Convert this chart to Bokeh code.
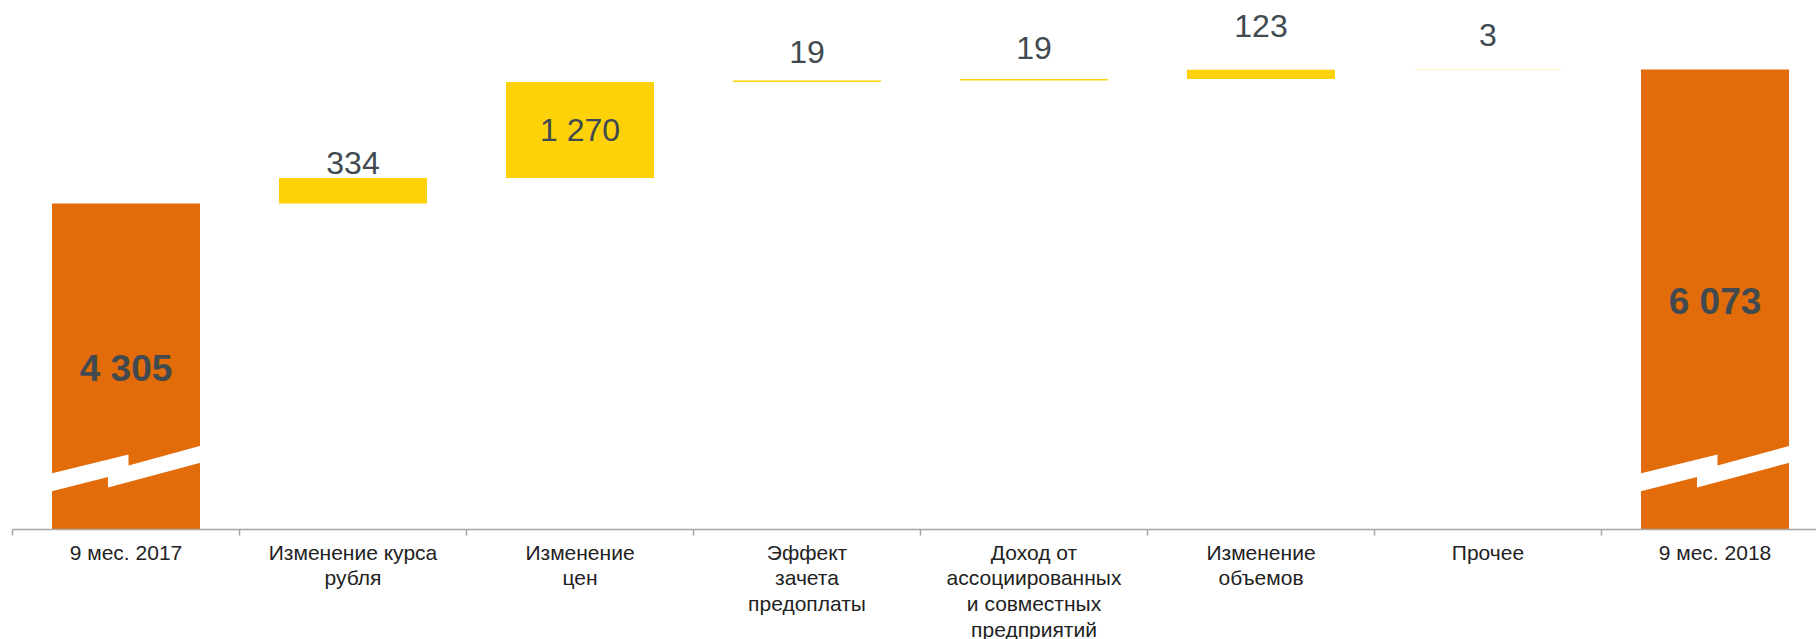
from bokeh.plotting import figure
from bokeh.models import ColumnDataSource, FixedTicker, Range1d
from bokeh.embed import file_html
from bokeh.resources import INLINE
from bokeh.core.properties import value

# ---------------- data ----------------
categories = [
    "9 мес. 2017",
    "Изменение курса\nрубля",
    "Изменение\nцен",
    "Эффект\nзачета\nпредоплаты",
    "Доход от\nассоциированных\nи совместных\nпредприятий",
    "Изменение\nобъемов",
    "Прочее",
    "9 мес. 2018",
]
start_value = 4305
changes = [334, 1270, 19, 19, 123, 3]
end_value = 6073

# ---------------- style ----------------
ORANGE = "#E36C0A"
YELLOW = "#FDD208"
LABEL_COLOR = "#404A50"
TICK_COLOR = "#222222"
AXIS_COLOR = "#A6A6A6"
FONT = "Liberation Sans"

FRAME_W = 1804
FRAME_H = 521
PX_PER_CAT = 227.0
X_START = -0.5
X_END = X_START + FRAME_W / PX_PER_CAT
Y_END = 6878.0
UNITS_PER_PX = Y_END / FRAME_H
BAR_W = 148.0 / PX_PER_CAT

# pixel gaps between bar top and the label for labels placed above bars
above_gap_px = [15, 28, 31, 44, 34]

# break-symbol shape (px offsets from bar centre, px above baseline)
BREAK_DX = [-83, 2.5, 2.5, 81, 81, -18, -18, -83]
BREAK_DY = [54, 75, 64, 85.5, 68.5, 42, 52.5, 36]

# ---------------- waterfall geometry ----------------
n = len(categories)
xs = list(range(n))
bottoms, tops, colors, vals = [0], [start_value], [ORANGE], [start_value]
level = start_value
for c in changes:
    bottoms.append(level)
    level += c
    tops.append(level)
    colors.append(YELLOW)
    vals.append(c)
bottoms.append(0)
tops.append(end_value)
colors.append(ORANGE)
vals.append(end_value)

def fmt(v):
    return f"{v:,}".replace(",", " ")

bar_src = ColumnDataSource(dict(x=xs, bottom=bottoms, top=tops, color=colors))

p = figure(
    frame_width=FRAME_W, frame_height=FRAME_H,
    x_range=Range1d(X_START, X_END), y_range=Range1d(0, Y_END),
    output_backend="svg", toolbar_location=None,
    min_border_left=12, min_border_right=0, min_border_top=8, min_border_bottom=110,
    background_fill_color="white", border_fill_color="white",
)
p.outline_line_color = None
p.xgrid.visible = False
p.ygrid.visible = False
p.yaxis.visible = False

p.vbar(x="x", bottom="bottom", top="top", width=BAR_W, fill_color="color",
       line_color=None, source=bar_src)

# break symbols on total bars
bx, by = [], []
for i in (0, n - 1):
    bx.append([i + d / PX_PER_CAT for d in BREAK_DX])
    by.append([d * UNITS_PER_PX for d in BREAK_DY])
p.patches(bx, by, fill_color="white", line_color=None)

# labels
tot_x, tot_y, tot_t = [], [], []
in_x, in_y, in_t = [], [], []
ab_x, ab_y, ab_t = [], [], []
for i in range(n):
    h_px = (tops[i] - bottoms[i]) / UNITS_PER_PX
    mid = (tops[i] + bottoms[i]) / 2
    if i in (0, n - 1):
        tot_x.append(i); tot_y.append(mid); tot_t.append(fmt(vals[i]))
    elif h_px > 40:
        in_x.append(i); in_y.append(mid); in_t.append(fmt(vals[i]))
    else:
        ab_x.append(i); ab_y.append(tops[i]); ab_t.append(fmt(vals[i]))
ab_off = [-g for g in above_gap_px[:len(ab_x)]]

p.text(x=tot_x, y=tot_y, text=tot_t, text_align="center", text_baseline="middle",
       y_offset=2, text_font=value(FONT), text_font_size="37px",
       text_font_style="bold", text_color=LABEL_COLOR)
p.text(x=in_x, y=in_y, text=in_t, text_align="center", text_baseline="middle",
       text_font=value(FONT), text_font_size="32px", text_color=LABEL_COLOR)
p.text(x=ab_x, y=ab_y, text=ab_t, y_offset=ab_off, text_align="center",
       text_baseline="alphabetic", text_font=value(FONT), text_font_size="32px",
       text_color=LABEL_COLOR)

# x axis
ax = p.xaxis[0]
ax.ticker = FixedTicker(ticks=[float(i) for i in xs],
                        minor_ticks=[i - 0.5 for i in range(n + 1)])
ax.major_label_overrides = {float(i): categories[i] for i in xs}
ax.major_tick_out = 0
ax.major_tick_in = 0
ax.minor_tick_out = 6
ax.minor_tick_in = 0
ax.minor_tick_line_color = AXIS_COLOR
ax.minor_tick_line_width = 1.5
ax.axis_line_color = AXIS_COLOR
ax.axis_line_width = 1.5
ax.major_label_text_font = FONT
ax.major_label_text_font_size = "21px"
ax.major_label_text_color = TICK_COLOR
ax.major_label_text_line_height = 1.12
ax.major_label_standoff = 5
ax.major_label_orientation = "horizontal"

open("out.html", "w").write(file_html(p, INLINE))
